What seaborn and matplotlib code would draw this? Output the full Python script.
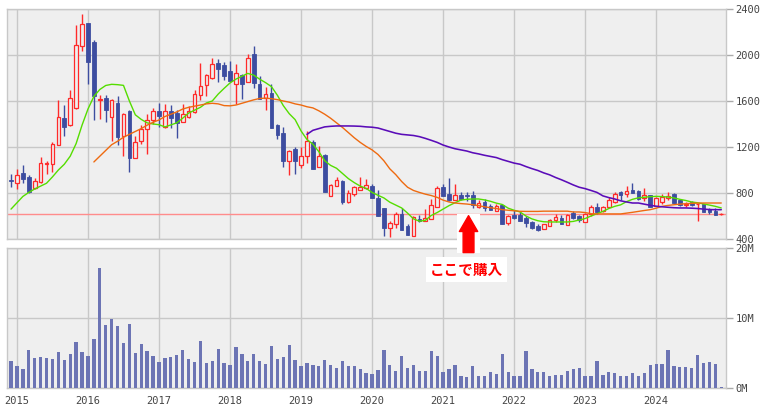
import matplotlib
matplotlib.use("Agg")
import numpy as np
import pandas as pd
import matplotlib.pyplot as plt
import seaborn as sns
from matplotlib.patches import Rectangle

# ---------------- data (monthly, Dec 2014 - Dec 2024) ----------------
months = pd.date_range("2014-12-01", periods=121, freq="MS")

opens = [915, 890, 977, 936, 846, 898, 1055, 1055, 1220, 1449, 1388, 1536, 2081,
         2275, 2110, 1610, 1629, 1464, 1580, 1296, 1510, 1107, 1252, 1359, 1435,
         1510, 1377, 1510, 1496, 1420, 1461, 1507, 1652, 1739, 1797, 1933, 1910,
         1858, 1745, 1823, 1768, 2006, 1751, 1623, 1672, 1388, 1319, 1078, 1180,
         1043, 1124, 1243, 1026, 1130, 777, 861, 901, 724, 794, 829, 843,
         858, 753, 666, 492, 533, 617, 510, 429, 577, 556, 577, 681,
         849, 788, 742, 785, 780, 779, 675, 721, 687, 643, 695, 542,
         608, 606, 582, 548, 513, 490, 513, 562, 585, 521, 623, 597,
         550, 614, 678, 643, 681, 719, 806, 794, 823, 820, 756, 780,
         690, 724, 753, 788, 739, 695, 719, 701, 701, 661, 640, 615]
highs = [962, 1006, 1046, 953, 927, 1116, 1075, 1240, 1606, 1562, 1693, 2258, 2354,
         2280, 2128, 1649, 1649, 1615, 1641, 1493, 1519, 1295, 1388, 1490, 1539,
         1580, 1571, 1562, 1519, 1571, 1553, 1693, 1933, 1838, 1977, 1962, 1939,
         1945, 1919, 1832, 2006, 2075, 1817, 1722, 1751, 1397, 1377, 1171, 1203,
         1203, 1339, 1258, 1211, 1136, 875, 942, 910, 829, 858, 936, 919,
         875, 829, 666, 556, 637, 666, 527, 600, 606, 658, 745, 861,
         875, 927, 881, 806, 806, 820, 736, 745, 707, 701, 707, 608,
         649, 635, 597, 556, 533, 533, 577, 620, 608, 620, 643, 606,
         629, 693, 716, 690, 765, 809, 814, 858, 890, 829, 843, 782,
         765, 794, 806, 800, 748, 719, 727, 707, 707, 666, 666, 629]
lows = [852, 837, 884, 803, 832, 890, 965, 985, 1220, 1295, 1382, 1527, 2035,
        1745, 1432, 1440, 1417, 1252, 1217, 1122, 982, 1107, 1229, 1139, 1397,
        1374, 1368, 1368, 1278, 1420, 1455, 1498, 1606, 1643, 1788, 1765, 1783,
        1777, 1571, 1614, 1768, 1713, 1620, 1519, 1368, 1267, 1029, 956, 962,
        1014, 1058, 1006, 1026, 808, 777, 861, 707, 716, 777, 829, 837,
        759, 600, 426, 420, 492, 478, 434, 429, 550, 556, 577, 681,
        774, 730, 736, 742, 730, 666, 666, 643, 652, 643, 533, 521,
        577, 554, 507, 484, 469, 490, 513, 550, 527, 521, 571, 550,
        550, 603, 614, 637, 678, 710, 739, 765, 797, 742, 730, 678,
        684, 707, 742, 710, 687, 678, 687, 556, 635, 620, 608, 608]
closes = [905, 956, 924, 811, 904, 1064, 1060, 1229, 1464, 1374, 1629, 2090, 2272,
          1939, 1643, 1620, 1522, 1611, 1287, 1484, 1104, 1246, 1359, 1432, 1510,
          1469, 1510, 1452, 1406, 1484, 1510, 1658, 1727, 1826, 1925, 1881, 1817,
          1777, 1846, 1745, 1977, 1756, 1620, 1664, 1368, 1304, 1078, 1162, 1078,
          1124, 1249, 1006, 1124, 808, 866, 910, 724, 803, 852, 852, 866,
          759, 600, 492, 542, 617, 478, 434, 591, 556, 585, 693, 840,
          774, 742, 785, 748, 776, 695, 710, 666, 652, 687, 533, 600,
          585, 554, 542, 498, 478, 527, 562, 594, 533, 606, 579, 562,
          620, 681, 637, 681, 736, 794, 782, 820, 797, 751, 780, 678,
          753, 768, 777, 716, 693, 701, 693, 707, 635, 635, 608, 620]

volume_m = [3.9, 3.2, 2.7, 5.5, 4.3, 4.4, 4.3, 4.2, 5.2, 4.0, 4.9, 6.6, 5.2,
            4.6, 7.0, 17.2, 9.0, 9.9, 8.9, 6.5, 9.2, 5.0, 6.3, 5.3, 4.6,
            3.7, 4.3, 4.4, 4.7, 5.5, 4.2, 3.7, 6.7, 3.6, 3.9, 5.6, 3.6,
            3.3, 5.9, 4.9, 3.9, 4.9, 3.9, 3.4, 6.0, 4.2, 4.4, 6.2, 4.0,
            3.2, 3.6, 3.3, 3.2, 4.0, 3.3, 2.9, 3.9, 3.2, 3.2, 2.7, 2.2,
            2.0, 2.6, 5.5, 3.3, 2.4, 4.6, 2.9, 3.3, 2.4, 2.4, 5.3, 4.6,
            2.3, 2.7, 3.3, 1.7, 1.6, 3.2, 1.7, 1.7, 2.3, 2.0, 4.9, 2.3,
            1.7, 1.7, 5.3, 2.7, 2.3, 2.3, 1.7, 1.9, 1.9, 2.4, 2.7, 2.9,
            1.7, 1.7, 3.9, 1.9, 2.3, 2.2, 1.7, 1.7, 2.2, 1.7, 2.2, 3.3,
            3.4, 3.4, 5.5, 3.2, 3.0, 3.0, 2.9, 4.7, 3.6, 3.7, 3.4, 0.15]

# short moving average (green), whole range
ma_short = [660, 715, 770, 805, 835, 860, 885, 940, 1000, 1050, 1120, 1230, 1390,
            1530, 1640, 1700, 1735, 1745, 1742, 1736, 1600, 1480, 1440, 1410, 1400,
            1394, 1375, 1392, 1410, 1450, 1495, 1520, 1545, 1583, 1600, 1660, 1710,
            1757, 1790, 1815, 1840, 1825, 1790, 1760, 1725, 1650, 1560, 1490, 1438,
            1340, 1265, 1225, 1160, 1080, 1040, 1015, 970, 925, 890, 860, 840,
            805, 780, 757, 720, 695, 670, 625, 575, 555, 562, 605, 630,
            660, 690, 715, 738, 745, 748, 748, 740, 728, 712, 700, 668,
            650, 635, 600, 575, 559, 550, 548, 548, 548, 548, 553, 565,
            578, 600, 620, 640, 665, 684, 697, 725, 745, 758, 763, 768,
            771, 769, 765, 757, 745, 735, 722, 715, 705, 695, 684, 670]
# mid moving average (orange), starts Feb 2016
ma_mid_start = 14
ma_mid = [1070, 1120, 1170, 1220, 1250, 1285, 1310, 1335, 1360, 1390, 1415,
          1435, 1465, 1485, 1505, 1530, 1545, 1555, 1565, 1575, 1580, 1575, 1560,
          1558, 1565, 1580, 1595, 1610, 1622, 1625, 1620, 1612, 1600, 1590, 1575,
          1565, 1550, 1540, 1515, 1485, 1450, 1410, 1370, 1325, 1280, 1240, 1205,
          1175, 1135, 1080, 1010, 960, 900, 850, 822, 805, 790, 778, 762,
          738, 722, 713, 708, 704, 698, 690, 680, 672, 665, 655, 650,
          645, 641, 640, 640, 640, 642, 642, 642, 642, 642, 635, 635,
          630, 620, 618, 618, 618, 618, 618, 625, 632, 640, 648, 655,
          668, 684, 692, 698, 703, 707, 710, 712, 713, 713, 713, 713]
# long moving average (purple), starts Feb 2019
ma_long_start = 50
ma_long = [1310, 1345, 1360, 1375, 1380, 1383, 1383, 1383, 1382, 1380, 1375,
           1372, 1365, 1350, 1335, 1320, 1310, 1305, 1300, 1290, 1275, 1258, 1240,
           1217, 1200, 1185, 1175, 1165, 1150, 1140, 1128, 1118, 1108, 1090, 1075,
           1060, 1050, 1030, 1012, 996, 975, 958, 935, 915, 893, 870, 850,
           838, 822, 805, 775, 760, 748, 732, 722, 713, 713, 703, 693,
           685, 680, 676, 672, 670, 670, 668, 665, 660, 656, 655, 655]

buy_price = 617
buy_label = "ここで購入"
price_ticks = [400, 800, 1200, 1600, 2000, 2400]
volume_ticks = [0, 10, 20]
volume_tick_labels = ["0M", "10M", "20M"]

# ---------------- styling ----------------
sns.set_theme(style="white")
plt.rcParams["font.family"] = ["DejaVu Sans Mono", "DejaVu Sans"]

UP = "#ff2a2a"
DOWN = "#3d4da0"
BG = "#efefef"
GRID = "#c8c8c8"
VOL = "#6c74b4"

W, H = 762, 413
fig = plt.figure(figsize=(W / 100, H / 100), dpi=100)
fig.patch.set_facecolor("white")
ax = fig.add_axes([7 / W, 1 - 239 / H, 719 / W, 230 / H])
axv = fig.add_axes([7 / W, 1 - 388 / H, 719 / W, 140 / H], sharex=ax)
ax.set_zorder(2)
axv.set_zorder(1)

x = np.arange(len(months))
o = np.array(opens, float); c = np.array(closes, float)
hi = np.array(highs, float); lo = np.array(lows, float)
up = c >= o

for a in (ax, axv):
    a.set_facecolor(BG)
    for s in a.spines.values():
        s.set_color(GRID)
        s.set_linewidth(1.0)
    a.grid(True, color=GRID, linewidth=1.0)
    a.set_axisbelow(True)
    a.yaxis.tick_right()
    a.tick_params(axis="y", which="both", right=True, length=5, width=1,
                  color="#aaaaaa", labelsize=7.5, labelcolor="#444444", pad=2)

# candles
ax.vlines(x[up], lo[up], hi[up], color=UP, linewidth=1.0, zorder=3)
ax.vlines(x[~up], lo[~up], hi[~up], color=DOWN, linewidth=1.0, zorder=3)
body_bottom = np.minimum(o, c)
body_h = np.maximum(np.abs(c - o), 5)
ax.bar(x[up], body_h[up], bottom=body_bottom[up], width=0.62,
       facecolor=BG, edgecolor=UP, linewidth=0.9, zorder=4)
ax.bar(x[~up], body_h[~up], bottom=body_bottom[~up], width=0.62,
       facecolor=DOWN, edgecolor=DOWN, linewidth=0.6, zorder=4)

# moving averages
ma_df = pd.DataFrame({"x": x, "short": ma_short})
sns.lineplot(data=ma_df, x="x", y="short", ax=ax, color="#55dd00",
             linewidth=1.0, zorder=5)
sns.lineplot(x=x[ma_mid_start:ma_mid_start + len(ma_mid)], y=ma_mid, ax=ax,
             color="#ee6a10", linewidth=1.0, zorder=5)
sns.lineplot(x=x[ma_long_start:ma_long_start + len(ma_long)], y=ma_long, ax=ax,
             color="#5a0cb8", linewidth=1.15, zorder=5)

ax.axhline(buy_price, color="#ff8c8c", linewidth=1.0, zorder=2.5)

ax.set_ylim(400, 2400)
ax.set_yticks(price_ticks)
ax.set_yticklabels([str(t) for t in price_ticks])
ax.set_xlim(-0.68, 120.8)
year_pos = [i for i, m in enumerate(months) if m.month == 1]
ax.set_xticks(year_pos)
ax.tick_params(axis="x", length=0, labelbottom=False)
ax.set_xlabel(""); ax.set_ylabel("")

# volume
axv.bar(x, volume_m, width=0.56, color=VOL, linewidth=0, zorder=3)
axv.set_ylim(0, 20)
axv.set_yticks(volume_ticks)
axv.set_yticklabels(volume_tick_labels)
axv.set_xticks(year_pos)
axv.set_xticklabels([str(months[i].year) for i in year_pos])
axv.tick_params(axis="x", length=3, width=1, color=GRID, labelsize=7.5,
                labelcolor="#444444", pad=3)
axv.set_xlabel(""); axv.set_ylabel("")

# annotation: arrow + label
ax.add_patch(Rectangle((457 / W, 1 - 253 / H), 23 / W, 39 / H,
                       transform=fig.transFigure, facecolor="white",
                       edgecolor="none", clip_on=False, zorder=10))
ax.annotate("", xy=(77.3, 603), xytext=(77.3, 282),
            arrowprops=dict(arrowstyle="simple,head_length=0.95,head_width=1.1,tail_width=0.65",
                            color="#ff0000", shrinkA=0, shrinkB=0, mutation_scale=12),
            annotation_clip=False, zorder=11)
ax.text(466.5 / W, 1 - 269.5 / H, buy_label, transform=fig.transFigure,
        ha="center", va="center", color="#ff0000", fontsize=10.5,
        fontweight="bold", family=["Noto Sans CJK JP", "DejaVu Sans"],
        bbox=dict(boxstyle="square,pad=0.3", facecolor="white", edgecolor="none"),
        zorder=12, clip_on=False)

fig.savefig("out.png", dpi=100, facecolor="white")
